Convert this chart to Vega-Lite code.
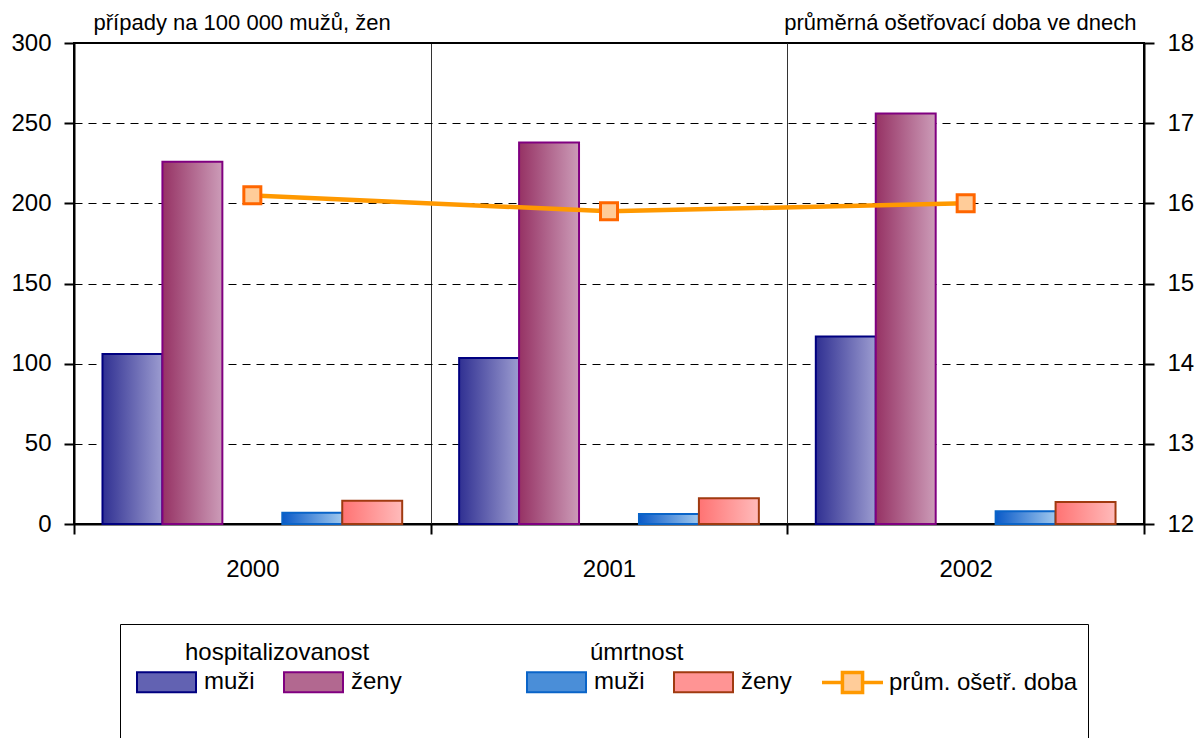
{
  "$schema": "https://vega.github.io/schema/vega-lite/v6.json",
  "autosize": {"type": "none"},
  "padding": {"left": 74, "top": 43, "right": 57, "bottom": 214},
  "width": 1070,
  "height": 481,
  "background": "white",
  "config": {
    "font": "Liberation Sans",
    "view": {"stroke": "black", "strokeWidth": 2},
    "axis": {
      "labelFont": "Liberation Sans",
      "labelFontSize": 24,
      "labelColor": "black",
      "titleFont": "Liberation Sans",
      "titleFontSize": 22,
      "titleFontWeight": "normal",
      "titleColor": "black",
      "domainColor": "black",
      "domainWidth": 2,
      "tickColor": "black",
      "tickWidth": 2,
      "tickSize": 10
    },
    "legend": {
      "labelFont": "Liberation Sans",
      "labelFontSize": 24,
      "labelColor": "black",
      "labelLimit": 400,
      "titleFont": "Liberation Sans",
      "titleFontSize": 24,
      "titleFontWeight": "normal",
      "titleColor": "black",
      "titleLimit": 400
    }
  },
  "datasets": {
    "bary": [
      {"rok": "2000", "ukazatel": "hospitalizovanost", "pohlavi": "muži", "slot": "hm", "hodnota": 106},
      {"rok": "2000", "ukazatel": "hospitalizovanost", "pohlavi": "ženy", "slot": "hz", "hodnota": 226},
      {"rok": "2000", "ukazatel": "úmrtnost", "pohlavi": "muži", "slot": "um", "hodnota": 7},
      {"rok": "2000", "ukazatel": "úmrtnost", "pohlavi": "ženy", "slot": "uz", "hodnota": 14.5},
      {"rok": "2001", "ukazatel": "hospitalizovanost", "pohlavi": "muži", "slot": "hm", "hodnota": 103.5},
      {"rok": "2001", "ukazatel": "hospitalizovanost", "pohlavi": "ženy", "slot": "hz", "hodnota": 238},
      {"rok": "2001", "ukazatel": "úmrtnost", "pohlavi": "muži", "slot": "um", "hodnota": 6.3},
      {"rok": "2001", "ukazatel": "úmrtnost", "pohlavi": "ženy", "slot": "uz", "hodnota": 16},
      {"rok": "2002", "ukazatel": "hospitalizovanost", "pohlavi": "muži", "slot": "hm", "hodnota": 117},
      {"rok": "2002", "ukazatel": "hospitalizovanost", "pohlavi": "ženy", "slot": "hz", "hodnota": 256},
      {"rok": "2002", "ukazatel": "úmrtnost", "pohlavi": "muži", "slot": "um", "hodnota": 8},
      {"rok": "2002", "ukazatel": "úmrtnost", "pohlavi": "ženy", "slot": "uz", "hodnota": 13.7}
    ],
    "doba": [
      {"rok": "2000", "doba": 16.1},
      {"rok": "2001", "doba": 15.9},
      {"rok": "2002", "doba": 16.0}
    ]
  },
  "layer": [
    {
      "data": {"name": "bary"},
      "encoding": {
        "x": {
          "field": "rok", "type": "nominal",
          "scale": {"domain": ["2000", "2001", "2002"], "paddingInner": 0, "paddingOuter": 0},
          "axis": {
            "title": null, "labelAngle": 0, "tickBand": "extent", "labelPadding": 23,
            "grid": true, "gridColor": "#333333", "gridWidth": 1
          }
        },
        "xOffset": {
          "field": "slot", "type": "nominal",
          "scale": {"domain": ["hm", "hz", "gap", "um", "uz"], "paddingInner": 0, "paddingOuter": 0.475}
        },
        "y": {
          "field": "hodnota", "type": "quantitative",
          "scale": {"domain": [0, 300], "nice": false},
          "axis": {
            "values": [0, 50, 100, 150, 200, 250, 300],
            "labelPadding": 13,
            "grid": true, "gridDash": [8, 6], "gridColor": "black", "gridWidth": 1,
            "title": "případy na 100 000 mužů, žen",
            "titleAngle": 0, "titleAlign": "left", "titleBaseline": "alphabetic",
            "titleX": 19, "titleY": -14
          }
        }
      },
      "layer": [
        {
          "transform": [{"filter": "datum.slot == 'hm'"}],
          "mark": {
            "type": "bar", "strokeWidth": 2, "stroke": "#000080",
            "fill": {"gradient": "linear", "x1": 0, "y1": 0, "x2": 1, "y2": 0, "stops": [{"offset": 0, "color": "#303092"}, {"offset": 1, "color": "#9C9CD0"}]}
          }
        },
        {
          "transform": [{"filter": "datum.slot == 'hz'"}],
          "mark": {
            "type": "bar", "strokeWidth": 2, "stroke": "#800080",
            "fill": {"gradient": "linear", "x1": 0, "y1": 0, "x2": 1, "y2": 0, "stops": [{"offset": 0, "color": "#963264"}, {"offset": 1, "color": "#CC9CB8"}]}
          }
        },
        {
          "transform": [{"filter": "datum.slot == 'um'"}],
          "mark": {
            "type": "bar", "strokeWidth": 2, "stroke": "#0A64C8",
            "fill": {"gradient": "linear", "x1": 0, "y1": 0, "x2": 1, "y2": 0, "stops": [{"offset": 0, "color": "#0A5AC8"}, {"offset": 1, "color": "#A0C8EE"}]}
          }
        },
        {
          "transform": [{"filter": "datum.slot == 'uz'"}],
          "mark": {
            "type": "bar", "strokeWidth": 2, "stroke": "#A03A10",
            "fill": {"gradient": "linear", "x1": 0, "y1": 0, "x2": 1, "y2": 0, "stops": [{"offset": 0, "color": "#FF7373"}, {"offset": 1, "color": "#FFBBBB"}]}
          }
        },
        {
          "transform": [{"filter": "datum.ukazatel == 'hospitalizovanost'"}],
          "mark": {"type": "bar", "opacity": 0},
          "encoding": {
            "fill": {
              "field": "slot", "type": "nominal",
              "scale": {"domain": ["hm", "hz"], "range": ["#6262B2", "#B26890"]},
              "legend": {
                "title": "hospitalizovanost",
                "labelExpr": "datum.value == 'hm' ? 'muži' : 'ženy'",
                "orient": "none", "legendX": 62, "legendY": 598,
                "direction": "horizontal",
                "symbolType": "M-1,-0.34H1V0.34H-1Z",
                "symbolSize": 3481,
                "labelOffset": 7,
                "columnPadding": 25,
                "titleAnchor": "start",
                "titlePadding": -13.5,
                "encode": {
                  "symbols": {"update": {
                    "stroke": {"signal": "datum.value === 'hm' ? '#000080' : '#800080'"},
                    "strokeWidth": {"value": 2},
                    "opacity": {"value": 1},
                    "fillOpacity": {"value": 1},
                    "strokeOpacity": {"value": 1}
                  }},
                  "title": {"update": {"dx": {"value": 49}}}
                }
              }
            }
          }
        },
        {
          "transform": [{"filter": "datum.ukazatel == 'úmrtnost'"}],
          "mark": {"type": "bar", "opacity": 0},
          "encoding": {
            "color": {
              "field": "slot", "type": "nominal",
              "scale": {"domain": ["um", "uz"], "range": ["#4A8ED8", "#FF9494"]},
              "legend": {
                "title": "úmrtnost",
                "labelExpr": "datum.value == 'um' ? 'muži' : 'ženy'",
                "orient": "none", "legendX": 452, "legendY": 598,
                "direction": "horizontal",
                "symbolType": "M-1,-0.34H1V0.34H-1Z",
                "symbolSize": 3481,
                "labelOffset": 7,
                "columnPadding": 25,
                "titleAnchor": "start",
                "titlePadding": -13.5,
                "encode": {
                  "symbols": {"update": {
                    "stroke": {"signal": "datum.value === 'um' ? '#0A64C8' : '#A03A10'"},
                    "strokeWidth": {"value": 2},
                    "opacity": {"value": 1},
                    "fillOpacity": {"value": 1},
                    "strokeOpacity": {"value": 1}
                  }},
                  "title": {"update": {"dx": {"value": 64}}}
                }
              }
            }
          }
        }
      ]
    },
    {
      "data": {"name": "doba"},
      "layer": [
        {
          "mark": {"type": "line", "strokeWidth": 4.5},
          "encoding": {
            "x": {"field": "rok", "type": "nominal"},
            "y": {
              "field": "doba", "type": "quantitative",
              "scale": {"domain": [12, 18], "nice": false, "zero": false},
              "axis": {
                "orient": "right",
                "values": [12, 13, 14, 15, 16, 17, 18],
                "format": "d",
                "labelPadding": 13,
                "grid": false,
                "title": "průměrná ošetřovací doba ve dnech",
                "titleAngle": 0, "titleAlign": "right", "titleBaseline": "alphabetic",
                "titleX": -8, "titleY": -14
              }
            },
            "stroke": {
              "datum": "prům. ošetř. doba",
              "scale": {"range": ["#FF9900"]},
              "legend": {
                "title": null,
                "orient": "none", "legendX": 746, "legendY": 607,
                "symbolType": "M-1,0H-0.33M0.33,0H1M-0.33,-0.33H0.33V0.33H-0.33Z",
                "symbolSize": 3721,
                "symbolStrokeWidth": 3.5,
                "symbolFillColor": "#FFCC99",
                "symbolStrokeColor": "#FF9900",
                "labelOffset": 4
              }
            }
          }
        },
        {
          "mark": {"type": "point", "filled": true, "fill": "#FFCC99", "stroke": "#FF6600", "strokeWidth": 3, "size": 289, "opacity": 1},
          "encoding": {
            "x": {"field": "rok", "type": "nominal"},
            "y": {"field": "doba", "type": "quantitative"},
            "shape": {
              "datum": "rámeček",
              "scale": {"range": ["square"]},
              "legend": {
                "title": null,
                "orient": "none", "legendX": 46, "legendY": 581,
                "padding": 483,
                "strokeColor": "black",
                "symbolOpacity": 0,
                "symbolSize": 0,
                "labelExpr": "''",
                "labelFontSize": 1,
                "labelOffset": 0,
                "encode": {"legend": {"update": {"strokeWidth": {"value": 2}}}}
              }
            }
          }
        }
      ]
    }
  ],
  "resolve": {"scale": {"y": "independent"}}
}
